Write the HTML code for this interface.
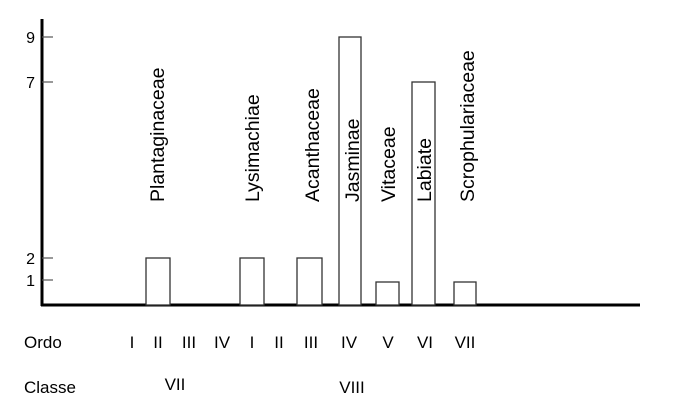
<!DOCTYPE html>
<html><head><style>body{margin:0;background:#fff}svg{display:block}</style></head><body>
<svg width="676" height="411" xmlns="http://www.w3.org/2000/svg" font-family="Liberation Sans, Arial, sans-serif" font-size="17" fill="#000">
<line x1="42" y1="19" x2="42" y2="306" stroke="#000" stroke-width="3"/>
<line x1="41" y1="305" x2="640" y2="305" stroke="#000" stroke-width="3"/>
<g stroke="#555" stroke-width="1.2">
<line x1="42" y1="37" x2="53" y2="37"/><line x1="42" y1="82" x2="53" y2="82"/>
<line x1="42" y1="258" x2="53" y2="258"/><line x1="42" y1="280" x2="53" y2="280"/>
</g>
<g font-size="16" text-anchor="end">
<text x="35" y="43">9</text><text x="35" y="88">7</text><text x="35" y="264">2</text><text x="35" y="286">1</text>
</g>
<g fill="#fff" stroke="#333" stroke-width="1.3">
<rect x="146" y="258" width="24" height="47"/>
<rect x="240" y="258" width="24" height="47"/>
<rect x="297" y="258" width="25" height="47"/>
<rect x="339" y="37" width="22" height="268"/>
<rect x="376" y="282" width="23" height="23"/>
<rect x="412" y="82" width="23" height="223"/>
<rect x="454" y="282" width="22" height="23"/>
</g>
<g font-size="19.5">
<text transform="translate(164,202) rotate(-90)">Plantaginaceae</text>
<text transform="translate(259,202) rotate(-90)">Lysimachiae</text>
<text transform="translate(319,202) rotate(-90)">Acanthaceae</text>
<text transform="translate(359,202) rotate(-90)">Jasminae</text>
<text transform="translate(395,202) rotate(-90)">Vitaceae</text>
<text transform="translate(431,202) rotate(-90)">Labiate</text>
<text transform="translate(474,202) rotate(-90)">Scrophulariaceae</text>
</g>
<text x="24" y="348">Ordo</text>
<g text-anchor="middle">
<text x="132" y="348">I</text><text x="158" y="348">II</text><text x="189" y="348">III</text>
<text x="222" y="348">IV</text><text x="252" y="348">I</text><text x="279" y="348">II</text>
<text x="311" y="348">III</text><text x="349" y="348">IV</text><text x="388" y="348">V</text>
<text x="425" y="348">VI</text><text x="465" y="348">VII</text>
<text x="175" y="390">VII</text><text x="352" y="393">VIII</text>
</g>
<text x="24" y="393">Classe</text>
</svg>
</body></html>
